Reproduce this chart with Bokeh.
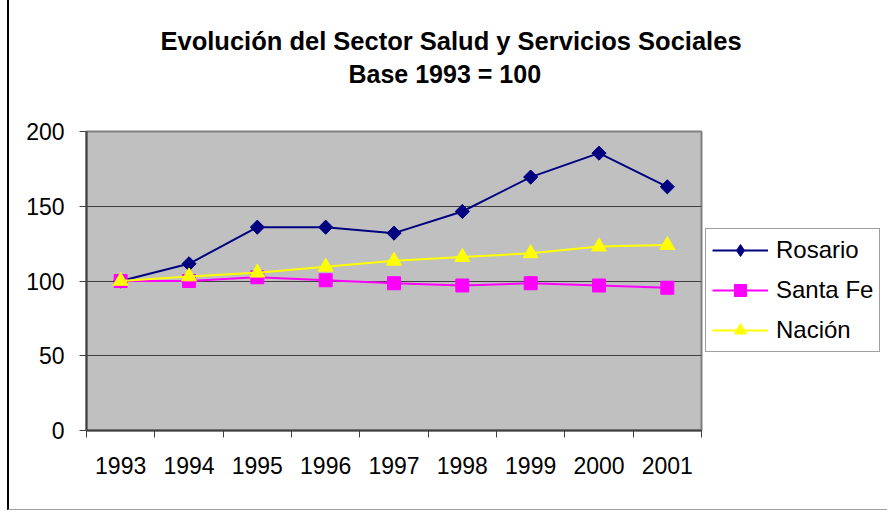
import math
from bokeh.plotting import figure
from bokeh.models import Range1d, FixedTicker, Legend, LegendItem, Title
from bokeh.embed import file_html
from bokeh.resources import INLINE

# ---- data ----
years = ["1993", "1994", "1995", "1996", "1997", "1998", "1999", "2000", "2001"]
rosario = [100, 111.5, 136, 136, 132, 146.5, 169.5, 185.5, 163]
santa_fe = [100, 100, 102.5, 100.5, 98.5, 97, 98.5, 97, 95.5]
nacion = [100, 103, 105.5, 109.5, 113.5, 116, 118.5, 123, 124]
y_ticks = [0, 50, 100, 150, 200]
title_line1 = "Evolución del Sector Salud y Servicios Sociales"
title_line2 = "Base 1993 = 100"

FONT = "Liberation Sans"

xpos = [i + 0.5 for i in range(len(years))]

p = figure(frame_width=615, frame_height=299, output_backend="svg", toolbar_location=None,
           x_range=Range1d(0, len(years)), y_range=Range1d(0, 200),
           min_border_left=77, min_border_right=186,
           min_border_top=131, min_border_bottom=79)

p.background_fill_color = "#C0C0C0"
p.border_fill_color = "white"
p.outline_line_color = "#808080"
p.outline_line_width = 2

# grid
p.xgrid.grid_line_color = None
p.ygrid.ticker = FixedTicker(ticks=y_ticks)
p.ygrid.grid_line_color = "#404040"
p.ygrid.grid_line_width = 1

# y axis
ya = p.yaxis[0]
ya.ticker = FixedTicker(ticks=y_ticks)
ya.axis_line_color = "#404040"
ya.axis_line_width = 2
ya.major_tick_out = 7
ya.major_tick_in = 0
ya.major_tick_line_color = "#404040"
ya.minor_tick_out = 0
ya.minor_tick_in = 0
ya.major_label_standoff = 15
ya.major_label_text_font = FONT
ya.major_label_text_font_size = "23px"
ya.major_label_text_color = "black"

# x axis
xa = p.xaxis[0]
xa.ticker = FixedTicker(ticks=xpos, minor_ticks=list(range(len(years) + 1)))
xa.major_label_overrides = {x: y for x, y in zip(xpos, years)}
xa.axis_line_color = "#404040"
xa.axis_line_width = 2
xa.major_tick_out = 0
xa.major_tick_in = 0
xa.minor_tick_out = 7
xa.minor_tick_in = 0
xa.minor_tick_line_color = "#404040"
xa.minor_tick_line_width = 1
xa.major_label_standoff = 19
xa.major_label_text_font = FONT
xa.major_label_text_font_size = "23px"
xa.major_label_text_color = "black"

# series
r_line = p.line(xpos, rosario, line_color="#000080", line_width=2)
# diamond glyph (hidden under the rotated squares) so the legend shows a diamond
r_leg = p.scatter(xpos, rosario, marker="diamond", size=13,
                  fill_color="#000080", line_color="#000080")
r_pts = p.scatter(xpos, rosario, marker="square", size=10, angle=math.pi / 4,
                  fill_color="#000080", line_color="#000080")
s_line = p.line(xpos, santa_fe, line_color="#FF00FF", line_width=2)
s_pts = p.scatter(xpos, santa_fe, marker="square", size=13,
                  fill_color="#FF00FF", line_color="#FF00FF")
n_line = p.line(xpos, nacion, line_color="#FFFF00", line_width=2)
n_pts = p.scatter(xpos, nacion, marker="triangle", size=15,
                  fill_color="#FFFF00", line_color="#FFFF00")

legend = Legend(items=[
    LegendItem(label="Rosario", renderers=[r_line, r_leg]),
    LegendItem(label="Santa Fe", renderers=[s_line, s_pts]),
    LegendItem(label="Nación", renderers=[n_line, n_pts]),
], location=(4, 78))
legend.label_text_font = FONT
legend.label_text_font_size = "24px"
legend.label_text_color = "black"
legend.glyph_width = 56
legend.glyph_height = 30
legend.label_height = 30
legend.label_standoff = 8
legend.spacing = 10
legend.padding = 6
legend.margin = 0
legend.border_line_color = "#404040"
legend.border_line_width = 1
legend.background_fill_color = "white"
legend.background_fill_alpha = 1
p.add_layout(legend, "right")

# titles: spacer nearest the frame, then line 2, then line 1
spacer = Title(text=" ", text_font_size="1px", standoff=37)
t2 = Title(text=title_line2, align="left", offset=262, vertical_align="middle",
           text_font=FONT, text_font_size="25px", text_font_style="bold",
           text_color="black", standoff=5)
t1 = Title(text=title_line1, align="left", offset=74, vertical_align="middle",
           text_font=FONT, text_font_size="25.5px", text_font_style="bold",
           text_color="black", standoff=1)
p.add_layout(spacer, "above")
p.add_layout(t2, "above")
p.add_layout(t1, "above")

p.styles = {"margin-left": "7px", "border-left": "2px solid black",
            "border-bottom": "1px solid #a0a0a0"}

open("out.html", "w").write(file_html(p, INLINE))
